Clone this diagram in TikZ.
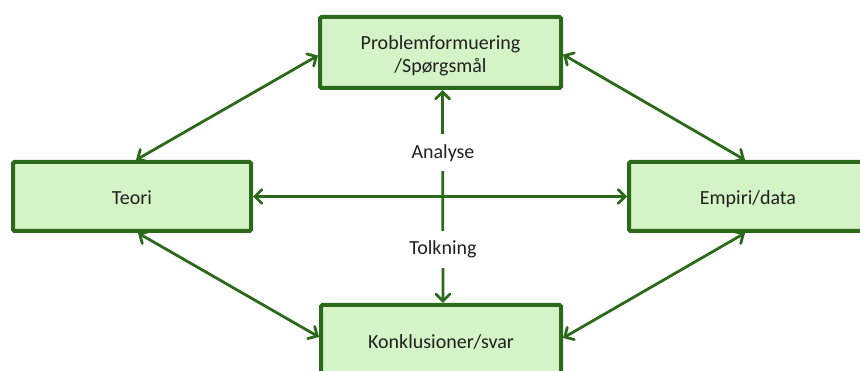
\documentclass[tikz,border=0pt]{standalone}
\usepackage{fontspec}
\setmainfont{Carlito}
\usetikzlibrary{arrows.meta}
\definecolor{boxline}{HTML}{2C6A1B}
\definecolor{boxfill}{HTML}{D4F4C7}
\definecolor{txt}{HTML}{202020}
\begin{document}
\begin{tikzpicture}[x=1pt,y=-1pt,
  every node/.style={font=\fontsize{20}{23}\selectfont, text=txt, align=center},
  stage/.style={draw=boxline, fill=boxfill, line width=4pt, rounded corners=1.5pt,
    minimum width=240pt, minimum height=71pt, inner sep=0pt},
  low text/.style={text height=17pt, text depth=0pt},
  link/.style={draw=boxline, line width=2.8pt,
    {Straight Barb[length=7pt,width=14pt,line cap=round]}-{Straight Barb[length=7pt,width=14pt,line cap=round]}},
  step label/.style={fill=white, inner xsep=1pt, minimum height=37pt}
]
\clip (0,0) rectangle (860,371);

% the four stages
\node[stage, minimum width=241pt] (prob) at (440.5,52.5)
  {\raisebox{-3.5pt}[\height][\depth]{\begin{tabular}{@{}c@{}}Problemformuering\\/Spørgsmål\end{tabular}}};
\node[stage, low text, minimum width=238pt, minimum height=69pt] (teori) at (132,196.5) {Teori};
\node[stage, low text, minimum width=238pt, minimum height=69pt] (empiri) at (748,196.5) {Empiri/data};
\node[stage, minimum width=240pt, text height=16pt, text depth=0pt] (konk) at (441,340.5) {Konklusioner/svar};

% connections around the diamond
\draw[link] ([xshift=4pt]teori.north) -- ([yshift=-3pt]prob.west);
\draw[link] ([yshift=-2pt]prob.east) -- ([xshift=-3pt]empiri.north);
\draw[link] ([xshift=6pt]teori.south) -- ([yshift=3.5pt]konk.west);
\draw[link] ([yshift=2.5pt]konk.east) -- ([xshift=-3pt]empiri.south);

% through the middle
\draw[link] (teori.east) -- (empiri.west);
\draw[link] ([xshift=2pt]prob.south) -- ([xshift=2pt]konk.north);

% labels on the vertical axis
\node[step label] (analyse) at (443,153) {Analyse};
\node[step label] (tolkning) at (443,249.5) {Tolkning};
\end{tikzpicture}
\end{document}
